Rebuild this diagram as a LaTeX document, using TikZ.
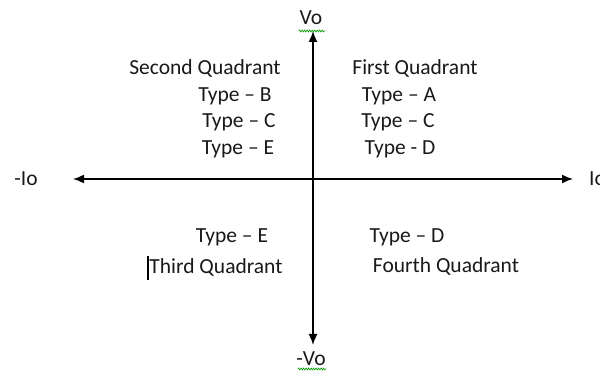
\documentclass[tikz,border=0pt]{standalone}
\usepackage{fontspec}
\setmainfont{Carlito}
\usetikzlibrary{arrows.meta,decorations.pathmorphing}
\begin{document}
\begin{tikzpicture}[x=1pt,y=-1pt,
  axis/.style={line width=1.6pt,-{Latex[length=11pt,width=9pt]}},
  lbl/.style={font=\fontsize{21.5}{23}\selectfont,text=black!90,inner sep=0pt,anchor=base},
  squig/.style={draw=green!60!black,line width=0.6pt,decorate,decoration={zigzag,amplitude=1pt,segment length=2.5pt}}]
\useasboundingbox (0,0) rectangle (600,371);
\node[lbl] (vo) at (311,25) {Vo};
\node[lbl] (mvo) at (311,366) {-Vo};
\node[lbl] (mio) at (26,186) {-Io};
\node[lbl,anchor=base west] (io) at (589,186) {Io};
\coordinate (c) at (313,179);
\coordinate (top) at (313,31);
\coordinate (bot) at (313,345);
\coordinate (left) at (73,179);
\coordinate (right) at (573,179);
\draw[axis] (c) -- (top);
\draw[axis] (c) -- (bot);
\draw[axis] (c) -- (left);
\draw[axis] (c) -- (right);
\coordinate (s1a) at (299,31); \coordinate (s1b) at (325,31);
\coordinate (s2a) at (298,369); \coordinate (s2b) at (326,369);
\draw[squig] (s1a) -- (s1b);
\draw[squig] (s2a) -- (s2b);
\node[lbl] (q2) at (205,75) {Second Quadrant};
\node[lbl] (q1) at (415,75) {First Quadrant};
\node[lbl] (b) at (235,102) {Type – B};
\node[lbl] (a) at (399,102) {Type – A};
\node[lbl] (c2) at (239,128) {Type – C};
\node[lbl] (c1) at (398,128) {Type – C};
\node[lbl] (e2) at (238,155) {Type – E};
\node[lbl] (d1) at (400,155) {Type - D};
\node[lbl] (e3) at (232,243) {Type – E};
\node[lbl] (d4) at (407,243) {Type – D};
\node[lbl] (q3) at (216,274) {Third Quadrant};
\node[lbl] (q4) at (446,273) {Fourth Quadrant};
\coordinate (cur1) at (148,256); \coordinate (cur2) at (148,280);
\draw[line width=1.5pt] (cur1) -- (cur2);
\end{tikzpicture}
\end{document}
